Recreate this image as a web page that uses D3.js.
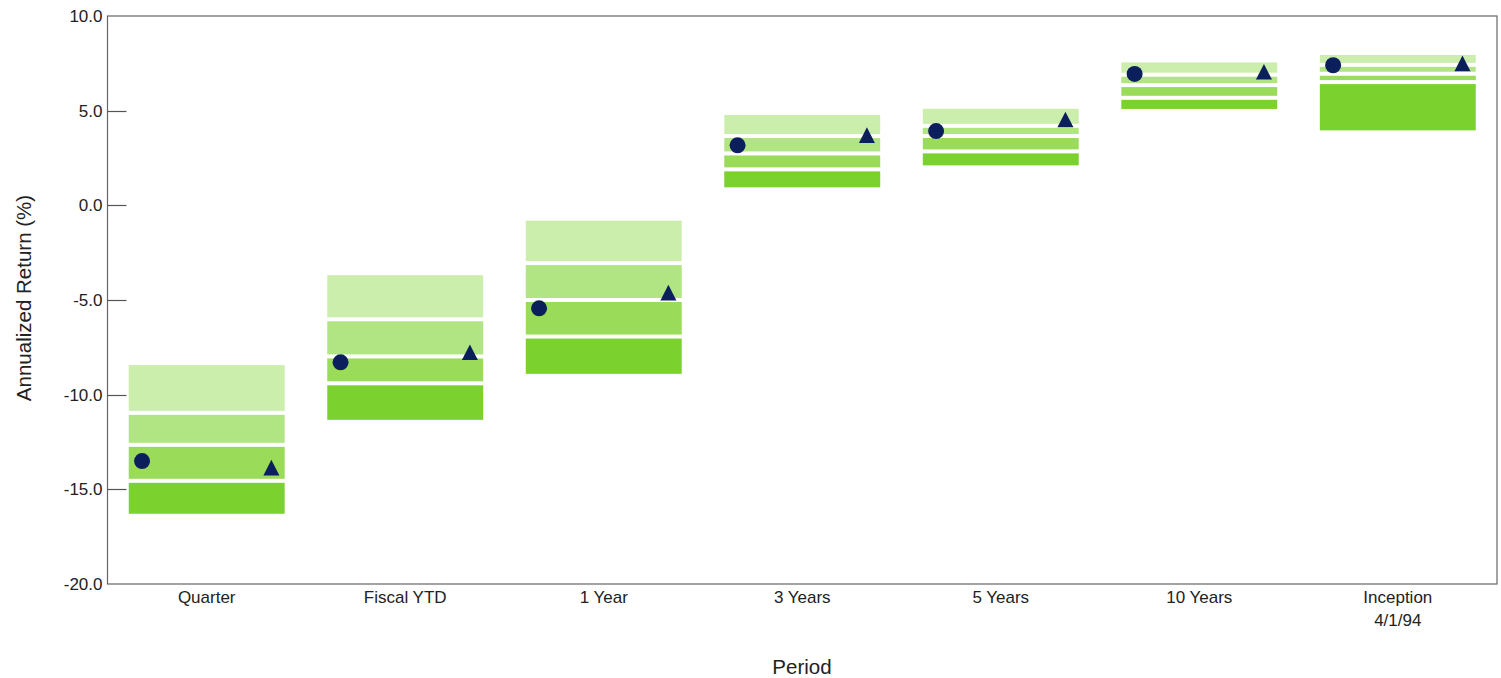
<!DOCTYPE html>
<html>
<head>
<meta charset="utf-8">
<script src="https://cdn.jsdelivr.net/npm/d3@7"></script>
<style>
  html, body { margin: 0; padding: 0; background: #fff; }
  svg { display: block; }
  text { font-family: "Liberation Sans", Arial, sans-serif; fill: #222; }
</style>
</head>
<body>
<svg id="chart" width="1501" height="678"></svg>
<script>
const categories = ["Quarter", "Fiscal YTD", "1 Year", "3 Years", "5 Years", "10 Years", "Inception\n4/1/94"];
const p5     = [-8.44, -3.69, -0.81, 4.77, 5.10, 7.55, 7.94];
const p25    = [-10.96, -6.02, -3.05, 3.66, 4.20, 6.90, 7.42];
const median = [-12.65, -7.98, -5.00, 2.74, 3.66, 6.35, 6.95];
const p75    = [-14.55, -9.40, -6.93, 1.90, 2.85, 5.68, 6.51];
const p95    = [-16.29, -11.33, -8.90, 0.95, 2.11, 5.09, 3.96];
const portfolio = [-13.51, -8.29, -5.44, 3.17, 3.92, 6.94, 7.40];
const benchmark = [-13.99, -7.90, -4.75, 3.57, 4.40, 6.92, 7.36];
const yTicks = [10, 5, 0, -5, -10, -15, -20];
const yTitle = "Annualized Return (%)";
const xTitle = "Period";

const segColors = ["#cbeeac", "#b1e483", "#9adb5a", "#7bd22f"];
const markerColor = "#0b1f5c";

const svg = d3.select("#chart");
const L = 107.5, R = 1497, T = 16, B = 584;

const y = d3.scaleLinear().domain([-20, 10]).range([B, T]);
const x = d3.scaleBand().domain(categories).range([L, R])
  .paddingInner(0.2145).paddingOuter(0.107);

// bars
const bounds = categories.map((c, i) => [p5[i], p25[i], median[i], p75[i], p95[i]]);
const gap = 2;
categories.forEach((c, i) => {
  const b = bounds[i];
  for (let s = 0; s < 4; s++) {
    const y0 = y(b[s]) + (s > 0 ? gap : 0);
    const y1 = y(b[s + 1]) - (s < 3 ? gap : 0);
    svg.append("rect")
      .attr("x", x(c)).attr("width", x.bandwidth())
      .attr("y", y0).attr("height", Math.max(0, y1 - y0))
      .attr("fill", segColors[s]);
  }
});

// markers
const off = 13.3;
svg.append("g").selectAll("circle").data(categories).join("circle")
  .attr("cx", c => x(c) + off)
  .attr("cy", (c, i) => y(portfolio[i]))
  .attr("r", 8)
  .attr("fill", markerColor);

svg.append("g").selectAll("path").data(categories).join("path")
  .attr("transform", (c, i) => `translate(${x(c) + x.bandwidth() - off},${y(benchmark[i])})`)
  .attr("d", "M0,-10.4L8,5.2L-8,5.2Z")
  .attr("fill", markerColor);

// frame
svg.append("rect").attr("x", L).attr("y", T).attr("width", R - L).attr("height", B - T)
  .attr("fill", "none").attr("stroke", "#666").attr("stroke-width", 1.2);

// y axis
const yAxis = d3.axisLeft(y).tickValues(yTicks).tickFormat(d3.format(".1f")).tickSize(0).tickPadding(5);
const gy = svg.append("g").attr("transform", `translate(${L},0)`).call(yAxis);
gy.select(".domain").remove();
gy.selectAll("text").style("font-size", "17px").attr("fill", "#222")
  .text(d => d3.format(".1f")(d).replace("−", "-"));
// inward ticks
svg.append("g").selectAll("line").data(yTicks.filter(d => d > -20 && d < 10)).join("line")
  .attr("x1", L).attr("x2", L + 19)
  .attr("y1", d => Math.round(y(d)) + 0.5).attr("y2", d => Math.round(y(d)) + 0.5)
  .attr("stroke", "#555").attr("stroke-width", 1.2);

// x axis labels
const xAxis = d3.axisBottom(x).tickSize(0).tickPadding(0);
const gx = svg.append("g").attr("transform", `translate(0,${B})`).call(xAxis);
gx.select(".domain").remove();
gx.selectAll(".tick text").each(function(d) {
  const t = d3.select(this);
  t.text(null).attr("y", 0).attr("dy", null).style("font-size", "17px").attr("fill", "#222");
  d.split("\n").forEach((line, k) => {
    t.append("tspan").attr("x", 0).attr("y", 19 + k * 23).text(line);
  });
});

// titles
svg.append("text").attr("x", 802).attr("y", 674)
  .attr("text-anchor", "middle").style("font-size", "20.5px").text(xTitle);
svg.append("text").attr("transform", `translate(31,298) rotate(-90)`)
  .attr("text-anchor", "middle").style("font-size", "20.5px").text(yTitle);
</script>
</body>
</html>
